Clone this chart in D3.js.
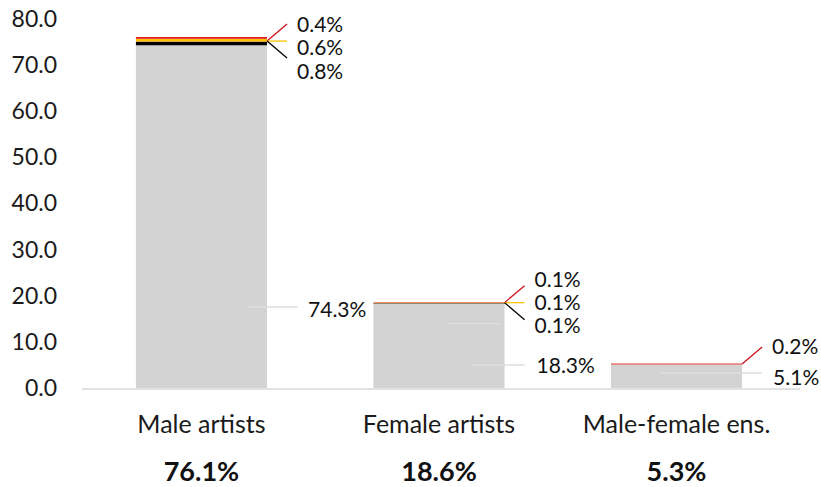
<!DOCTYPE html>
<html><head><meta charset="utf-8">
<script src="https://cdn.jsdelivr.net/npm/d3@7"></script>
<style>body{margin:0;background:#fff}svg{display:block}</style>
</head><body>
<svg id="c" width="821" height="487"></svg>
<script>
const categories = ["Male artists", "Female artists", "Male-female ens."];
const baseValues = [74.3, 18.3, 5.1];
const blackValues = [0.8, 0.1, 0];
const yellowValues = [0.6, 0.1, 0];
const redValues = [0.4, 0.1, 0.2];
const totalLabels = ["76.1%", "18.6%", "5.3%"];
const yTicks = [0, 10, 20, 30, 40, 50, 60, 70, 80];

const seriesKeys = ["base", "black", "yellow", "red"];
const colors = {base: "#d3d3d3", black: "#000000", yellow: "#ffc000", red: "#e0201a"};
const leaderColors = {black: "#000000", yellow: "#ffc000", red: "#d0101a"};
const table = categories.map((c, i) => ({cat: c, base: baseValues[i], black: blackValues[i], yellow: yellowValues[i], red: redValues[i]}));

const svg = d3.select("#c");
const font = "Lato, 'Open Sans', sans-serif";
const x = d3.scaleBand().domain(categories).range([82, 796]).paddingInner(0.448).paddingOuter(0.227);
const y = d3.scaleLinear().domain([0, 80]).range([388, 19]);

const stacked = d3.stack().keys(seriesKeys)(table);

svg.append("g").selectAll("g").data(stacked).join("g")
  .attr("fill", d => colors[d.key])
  .selectAll("rect").data(d => d).join("rect")
  .attr("x", d => x(d.data.cat))
  .attr("width", x.bandwidth())
  .attr("y", d => y(d[1]))
  .attr("height", d => Math.max(0, y(d[0]) - y(d[1])));

// axis baseline
svg.append("line").attr("x1", 82).attr("x2", 800).attr("y1", y(0) + 1).attr("y2", y(0) + 1)
  .attr("stroke", "#d9d9d9").attr("stroke-width", 1.5);

// y axis
const yAxis = d3.axisLeft(y).tickValues(yTicks).tickFormat(d3.format(".1f")).tickSize(0).tickPadding(0);
const ga = svg.append("g").attr("transform", "translate(57,0)").call(yAxis);
ga.select(".domain").remove();
ga.selectAll("text").attr("font-family", font).attr("font-size", 23).attr("fill", "#1a1a1a");

// category labels
svg.append("g").selectAll("text").data(categories).join("text")
  .attr("x", d => x(d) + x.bandwidth() / 2).attr("y", 433)
  .attr("text-anchor", "middle").attr("font-family", font).attr("font-size", 25).attr("fill", "#1a1a1a")
  .text(d => d);

svg.append("g").selectAll("text").data(totalLabels).join("text")
  .attr("x", (d, i) => x(categories[i]) + x.bandwidth() / 2).attr("y", 481)
  .attr("text-anchor", "middle").attr("font-family", font).attr("font-size", 27).attr("font-weight", "bold").attr("fill", "#111")
  .text(d => d);

// data labels for small segments (layout offsets)
const smallKeys = ["red", "yellow", "black"];
const leaderDy = {red: -17, yellow: 0, black: 17};
const labelDy = [{red: -16, yellow: 7, black: 31}, {red: -23, yellow: 0, black: 23}, {red: -17, yellow: 0, black: 0}];
const fmt = v => d3.format(".1f")(v) + "%";
const lab = svg.append("g");
table.forEach((row, i) => {
  const xr = x(row.cat) + x.bandwidth();
  const ay = y(row.base + row.black) - 0.5;
  smallKeys.forEach(k => {
    if (row[k] <= 0) return;
    lab.append("line").attr("x1", xr).attr("y1", ay).attr("x2", xr + 20).attr("y2", ay + leaderDy[k])
      .attr("stroke", leaderColors[k]).attr("stroke-width", 1.3);
    lab.append("text").attr("x", xr + 30).attr("y", ay + labelDy[i][k]).attr("dy", "0.35em")
      .attr("font-family", font).attr("font-size", 21).attr("fill", "#111").text(fmt(row[k]));
  });
});

// base segment labels with faint leaders: [line start dx, line end dx, line up from baseline, label dx, label up from baseline]
const baseLeader = [[-20, 31, 81, 41, 78], [-32, 20, 23, 32, 22], [-82, 20, 15, 31, 10]];
table.forEach((row, i) => {
  const xr = x(row.cat) + x.bandwidth();
  const [dxs, dxe, up, ldx, lup] = baseLeader[i];
  const yl = y(0) - up;
  lab.append("line").attr("x1", xr + dxs).attr("x2", xr + dxe).attr("y1", yl).attr("y2", yl)
    .attr("stroke", "#dedede").attr("stroke-width", 1.3);
  lab.append("text").attr("x", xr + ldx).attr("y", y(0) - lup).attr("dy", "0.35em")
    .attr("font-family", font).attr("font-size", 21).attr("fill", "#111").text(fmt(row.base));
});
// extra faint line inside female bar
svg.append("line").attr("x1", x(categories[1]) + 74).attr("x2", x(categories[1]) + 127)
  .attr("y1", y(baseValues[1]) + 20).attr("y2", y(baseValues[1]) + 20)
  .attr("stroke", "#dedede").attr("stroke-width", 1.3);
</script>
</body></html>
